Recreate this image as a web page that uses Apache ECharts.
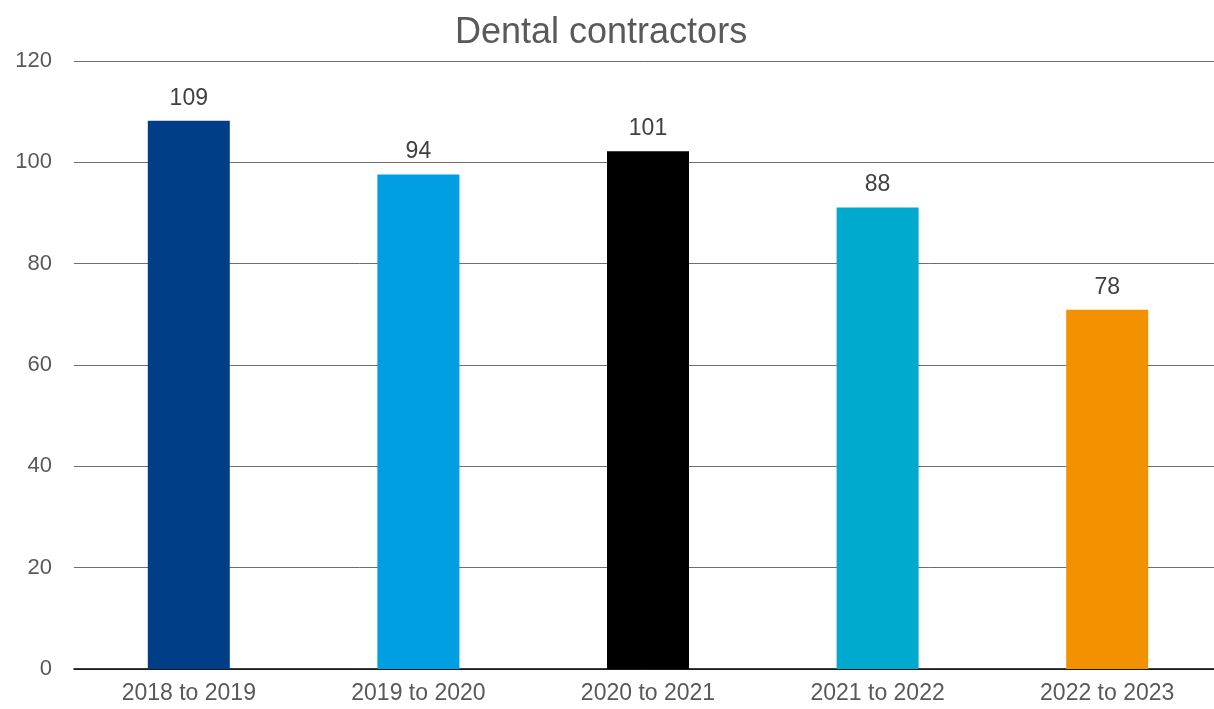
<!DOCTYPE html>
<html>
<head>
<meta charset="utf-8">
<script src="https://cdn.jsdelivr.net/npm/echarts@6/dist/echarts.min.js"></script>
<style>html,body{margin:0;padding:0;background:#fff;}#c{width:1214px;height:709px;}</style>
</head>
<body>
<div id="c"></div>
<script>
const categories = ['2018 to 2019', '2019 to 2020', '2020 to 2021', '2021 to 2022', '2022 to 2023'];
// bar heights as drawn in the picture
const barValues = [108.2, 97.6, 102.2, 91.1, 70.9];
// value labels as printed above the bars
const labelValues = [109, 94, 101, 88, 78];
const barColors = ['#003f87', '#009fe3', '#000000', '#00a9ce', '#f39200'];
const yTicks = [0, 20, 40, 60, 80, 100, 120];

const chart = echarts.init(document.getElementById('c'));
chart.setOption({
  animation: false,
  title: {
    text: 'Dental contractors',
    left: 450,
    top: 10,
    textStyle: { fontFamily: 'Liberation Sans', fontSize: 36, fontWeight: 'normal', color: '#595959' }
  },
  grid: { left: 74, right: -8, top: 61, bottom: 40, outerBoundsMode: 'none', containLabel: false },
  xAxis: {
    type: 'category',
    data: categories,
    axisTick: { show: false },
    axisLine: { lineStyle: { color: '#000', width: 1.5 } },
    axisLabel: { fontFamily: 'Liberation Sans', fontSize: 23, color: '#595959', margin: 13 }
  },
  yAxis: {
    type: 'value',
    min: yTicks[0],
    max: yTicks[yTicks.length - 1],
    interval: 20,
    axisLine: { show: false },
    axisTick: { show: false },
    splitLine: { lineStyle: { color: '#6e6e6e', width: 1 } },
    axisLabel: { fontFamily: 'Liberation Sans', fontSize: 22, color: '#595959', margin: 22 }
  },
  series: [{
    type: 'bar',
    barWidth: 82,
    data: barValues.map((v, i) => ({ value: v, itemStyle: { color: barColors[i] } })),
    label: {
      show: true,
      position: 'top',
      distance: 11,
      fontFamily: 'Liberation Sans',
      fontSize: 23,
      color: '#404040',
      formatter: p => String(labelValues[p.dataIndex])
    }
  }]
});
</script>
</body>
</html>
